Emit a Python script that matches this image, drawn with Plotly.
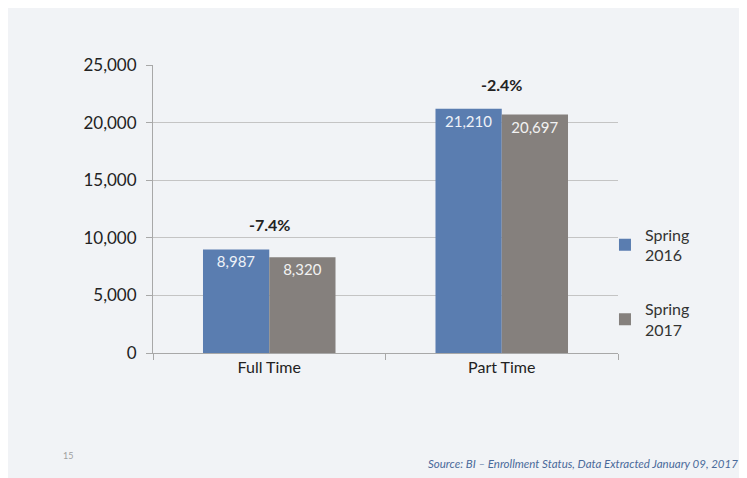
import plotly.graph_objects as go

categories = ["Full Time", "Part Time"]
spring_2016 = [8987, 21210]
spring_2017 = [8320, 20697]
series_names = ["Spring<br>2016", "Spring<br>2017"]
tick_vals = [0, 5000, 10000, 15000, 20000, 25000]
tick_text = ["0", "5,000", "10,000", "15,000", "20,000", "25,000"]
source_text = "Source: BI – Enrollment Status, Data Extracted January 09, 2017"
page_number = "15"

pct_change = [(b - a) / a * 100 for a, b in zip(spring_2016, spring_2017)]

FONT = "Lato, 'Open Sans', sans-serif"

# The page has an 8px body margin, so the figure is drawn 8px smaller.
W, H = 739, 470
L, T, PW, PH = 145, 57, 465, 288


def px(xf):
    return (xf - 8 - L) / PW


def py(yf):
    return (T + PH - (yf - 8)) / PH


fig = go.Figure()
fig.add_trace(go.Bar(
    x=categories, y=spring_2016, name=series_names[0], legendgroup="a",
    marker=dict(color="#5a7db0", line=dict(width=0)),
    text=[f"{v:,}" for v in spring_2016], textposition="inside",
    insidetextanchor="end", textangle=0,
    textfont=dict(color="#eef2f8", size=15, family=FONT),
))
fig.add_trace(go.Bar(
    x=categories, y=spring_2017, name=series_names[1], legendgroup="b",
    marker=dict(color="#85807d", line=dict(width=0)),
    text=[f"{v:,}" for v in spring_2017], textposition="inside",
    insidetextanchor="end", textangle=0,
    textfont=dict(color="#f2f2f2", size=15, family=FONT),
))

annotations = []
for cat, a, b, p in zip(categories, spring_2016, spring_2017, pct_change):
    annotations.append(dict(
        x=cat, y=max(a, b), xref="x", yref="y", text=f"<b>{p:.1f}%</b>",
        showarrow=False, yanchor="bottom", yshift=13,
        font=dict(size=16, color="#222222", family=FONT),
    ))
annotations.append(dict(
    x=px(740), y=py(463), xref="paper", yref="paper", text=f"<i>{source_text}</i>",
    showarrow=False, xanchor="right", yanchor="middle",
    font=dict(size=11.5, color="#4a6a9a", family=FONT),
))
annotations.append(dict(
    x=px(68), y=py(455), xref="paper", yref="paper", text=page_number,
    showarrow=False, xanchor="center", yanchor="middle",
    font=dict(size=9, color="#a0a0a0", family=FONT),
))

fig.update_layout(
    width=W, height=H,
    margin=dict(l=L, r=W - L - PW, t=T, b=H - T - PH, pad=0),
    paper_bgcolor="#f1f3f6", plot_bgcolor="rgba(0,0,0,0)",
    barmode="group", bargap=0.43, bargroupgap=0,
    font=dict(family=FONT, size=16, color="#333333"),
    legend=dict(x=0.972, y=0.245, xanchor="left", yanchor="middle",
                tracegroupgap=30, font=dict(size=16, color="#333333"),
                bgcolor="rgba(0,0,0,0)", itemwidth=30),
    xaxis=dict(showline=True, linecolor="#a8a8a8", linewidth=1,
               ticks="outside", tickson="boundaries", ticklen=6,
               tickcolor="#a8a8a8", tickfont=dict(size=16, color="#222222")),
    yaxis=dict(range=[0, 25000], tickvals=tick_vals, ticktext=tick_text,
               showgrid=True, gridcolor="#c4c4c4", gridwidth=1,
               showline=True, linecolor="#a8a8a8", ticks="outside",
               ticklen=6, tickcolor="#a8a8a8", zeroline=False,
               ticklabelstandoff=6,
               tickfont=dict(size=17, color="#222222")),
    annotations=annotations,
)

fig.write_html("out.html")
